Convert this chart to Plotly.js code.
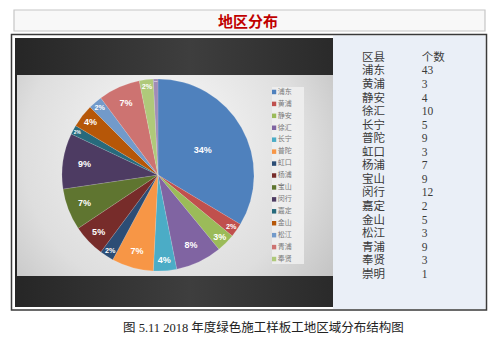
<!DOCTYPE html>
<html>
<head>
<meta charset="utf-8">
<script src="https://cdn.plot.ly/plotly-3.0.1.min.js"></script>
<style>html,body{margin:0;padding:0;background:#fff;}#chart{width:500px;height:339px;}</style>
</head>
<body>
<div id="chart"></div>
<script>
// ---- data ----
const districts = ['浦东','黄浦','静安','徐汇','长宁','普陀','虹口','杨浦','宝山','闵行','嘉定','金山','松江','青浦','奉贤','崇明'];
const counts = [43,3,4,10,5,9,3,7,9,12,2,5,3,9,3,1];
const tableHeader = ['区县','个数'];
const legendShown = 15; // the reference legend is cut off after 奉贤
const titleText = '地区分布';
const captionText = '图 5.11 2018 年度绿色施工样板工地区域分布结构图';

// ---- styles ----
const sliceColors = ['#4F81BD','#C0504D','#9BBB59','#8064A2','#4BACC6','#F79646',
  '#2C4D75','#772C2A','#5F7530','#4D3B62','#276A7C','#B65708',
  '#729ACA','#CD7371','#AFC97A','#A08CB7'];

const W = 500, H = 339;
const X = p => p / W;
const Y = p => 1 - p / H;

// background image for chart region (x 15..333, y 38..307)
function makeBg() {
  const c = document.createElement('canvas');
  const w = 318, h = 269;
  c.width = w; c.height = h;
  const g = c.getContext('2d');
  let lg = g.createLinearGradient(0, 0, w, 0);
  lg.addColorStop(0, '#262626'); lg.addColorStop(0.55, '#3e3e3e'); lg.addColorStop(1, '#2a2a2a');
  g.fillStyle = lg; g.fillRect(0, 0, w, h);
  // light plot area x 17..333, y 75..276 => local 2..318, 37..238
  const rg = g.createRadialGradient(150, 90, 10, 150, 130, 230);
  rg.addColorStop(0, '#f7f7f7'); rg.addColorStop(0.6, '#dedede'); rg.addColorStop(1, '#b8b8b8');
  g.fillStyle = rg; g.fillRect(2, 37, w - 2, 201);
  // legend panel
  g.fillStyle = 'rgba(240,240,240,0.85)';
  g.fillRect(257, 49, 32, 177);
  return c.toDataURL('image/png');
}

const n = districts.length;
const legendIdx = districts.slice(0, legendShown).map((_, i) => i);
const rowIdx = districts.map((_, i) => i + 1);
const tableFont = {family: 'Liberation Serif, Noto Sans CJK SC', size: 11.5, color: '#3a3a3a'};

const traces = [
  {
    type: 'pie',
    values: counts,
    labels: districts,
    sort: false,
    direction: 'clockwise',
    rotation: 0,
    marker: {colors: sliceColors, line: {color: 'rgba(255,255,255,0.25)', width: 0.5}},
    texttemplate: '%{percent:.0%}',
    textposition: 'inside',
    insidetextorientation: 'horizontal',
    textfont: {family: 'Liberation Sans, Arial', size: 9, color: '#ffffff', weight: 'bold'},
    domain: {x: [X(62), X(254)], y: [Y(271), Y(79)]},
    showlegend: false,
    hoverinfo: 'label+value+percent'
  },
  {
    type: 'scatter', mode: 'markers+text',
    x: legendIdx.map(() => 0.06), y: legendIdx,
    text: districts.slice(0, legendShown),
    textposition: 'middle right',
    textfont: {family: 'Noto Sans CJK SC', size: 7, color: '#7a7a7a'},
    marker: {symbol: 'square', size: 4.5, color: sliceColors.slice(0, legendShown)},
    xaxis: 'x2', yaxis: 'y2', showlegend: false, hoverinfo: 'skip'
  },
  {
    type: 'scatter', mode: 'text',
    x: [0.19].concat(districts.map(() => 0.19)),
    y: [0].concat(rowIdx),
    text: [tableHeader[0]].concat(districts),
    textposition: 'middle right',
    textfont: tableFont,
    xaxis: 'x3', yaxis: 'y3', showlegend: false, hoverinfo: 'skip'
  },
  {
    type: 'scatter', mode: 'text',
    x: [0.58].concat(districts.map(() => 0.58)),
    y: [0].concat(rowIdx),
    text: [tableHeader[1]].concat(counts.map(String)),
    textposition: 'middle right',
    textfont: tableFont,
    xaxis: 'x3', yaxis: 'y3', showlegend: false, hoverinfo: 'skip'
  }
];

const hiddenAxis = {visible: false, fixedrange: true, showgrid: false, zeroline: false};

const layout = {
  width: W, height: H,
  margin: {l: 0, r: 0, t: 0, b: 0},
  paper_bgcolor: '#ffffff',
  plot_bgcolor: 'rgba(0,0,0,0)',
  showlegend: false,
  xaxis2: Object.assign({domain: [X(272), X(305)], range: [0, 1], anchor: 'y2'}, hiddenAxis),
  yaxis2: Object.assign({domain: [Y(265), Y(86)], range: [legendShown - 0.5, -0.5], anchor: 'x2'}, hiddenAxis),
  xaxis3: Object.assign({domain: [X(333), X(486)], range: [0, 1], anchor: 'y3'}, hiddenAxis),
  yaxis3: Object.assign({domain: [Y(281.8), Y(51.2)], range: [n + 0.5, -0.5], anchor: 'x3'}, hiddenAxis),
  shapes: [
    {type: 'rect', xref: 'paper', yref: 'paper', x0: X(14), x1: X(485), y0: Y(31), y1: Y(10),
     fillcolor: '#f8f8f8', line: {color: '#c6c6c6', width: 1.2}, layer: 'below'},
    {type: 'rect', xref: 'paper', yref: 'paper', x0: X(333), x1: X(485.5), y0: Y(309), y1: Y(35.5),
     fillcolor: '#eaeff7', line: {width: 0}, layer: 'below'},
    {type: 'rect', xref: 'paper', yref: 'paper', x0: X(11.5), x1: X(486.5), y0: Y(310), y1: Y(34.5),
     fillcolor: 'rgba(0,0,0,0)', line: {color: '#3a3a3a', width: 1.5}, layer: 'above'}
  ],
  images: [
    {source: makeBg(), xref: 'paper', yref: 'paper', x: X(15), y: Y(38),
     sizex: X(333) - X(15), sizey: (307 - 38) / H, sizing: 'stretch',
     xanchor: 'left', yanchor: 'top', layer: 'below'}
  ],
  annotations: [
    {text: titleText, xref: 'paper', yref: 'paper', x: X(248), y: Y(21), showarrow: false,
     xanchor: 'center', yanchor: 'middle',
     font: {family: 'Noto Sans CJK SC', size: 15, color: '#c00000', weight: 'bold'}},
    {text: captionText, xref: 'paper', yref: 'paper', x: X(263), y: Y(327), showarrow: false,
     xanchor: 'center', yanchor: 'middle',
     font: {family: 'Liberation Serif, Noto Sans CJK SC', size: 12.5, color: '#222'}}
  ]
};

Plotly.newPlot('chart', traces, layout, {staticPlot: true, displayModeBar: false});
</script>
</body>
</html>
